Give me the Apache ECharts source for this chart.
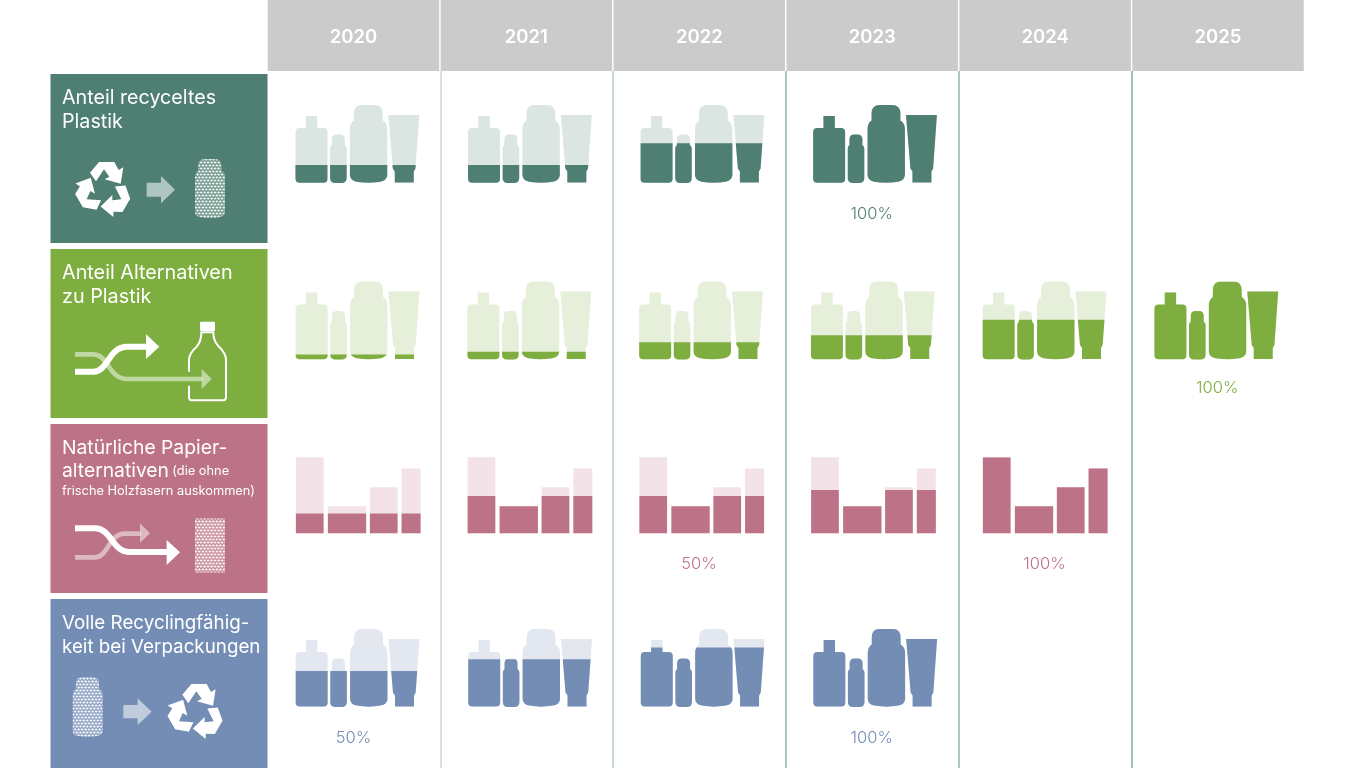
<!DOCTYPE html>
<html>
<head>
<meta charset="utf-8">
<style>html,body{margin:0;padding:0;background:#fff;overflow:hidden;width:1366px;height:768px}#chart{width:1366px;height:780px}</style>
<script src="https://cdn.jsdelivr.net/npm/echarts@6/dist/echarts.min.js"></script>
</head>
<body>
<div id="chart"></div>
<script>
// ---- data ----
const years = ['2020', '2021', '2022', '2023', '2024', '2025'];
const rowNames = ['Anteil recyceltes Plastik', 'Anteil Alternativen zu Plastik', 'Natürliche Papieralternativen', 'Volle Recyclingfähigkeit bei Verpackungen'];
const recycledFill = [23, 23, 51, 100, null, null];
const alternativesFill = [6.5, 10, 22, 31, 51, 100];
const paperFill = [26, 49, 49, 57, 100, null];
const recyclableFill = [46, 61, 76, 100, null, null];
const recycledLabels = ['', '', '', '100%', '', ''];
const alternativesLabels = ['', '', '', '', '', '100%'];
const paperLabels = ['', '', '50%', '', '100%', ''];
const recyclableLabels = ['50%', '', '', '100%', '', ''];
const titleLines = [
  ['{big|Anteil recyceltes}', '{big|Plastik}'],
  ['{big|Anteil Alternativen}', '{big|zu Plastik}'],
  ['{big|Natürliche Papier-}', '{big|alternativen} {small|(die ohne}', '{small|frische Holzfasern auskommen)}'],
  ['{big|Volle Recyclingfähig-}', '{big|keit bei Verpackungen}']
];
const darkColors = ['#4f7f72', '#7fae40', '#bc7387', '#738db5'];
const paleColors = ['#dbe6e3', '#e5efd9', '#f3e2e7', '#e3e8f0'];
const ruleColors = ['#c9dbd6', '#b4cdc6', '#8fb6ac', '#8fb6ac', '#86aca2'];

// ---- glyph outlines, local units: origin at the icon's left baseline ----
const bottlePaths = [
  'M10.3 -67H21.7V-55H28Q32 -55 32 -51V-4.3Q32 -.3 28 -.3H4Q0 -.3 0 -4.3V-51Q0 -55 4 -55H10.3Z',
  'M41 -48.5H44.5Q49.3 -48.5 49.3 -43.7V-38Q51.2 -37 51.2 -34.5V-5Q51.2 0 46 0H39.7Q34.6 0 34.6 -5V-34.5Q34.6 -37 36.3 -38V-43.7Q36.3 -48.5 41 -48.5Z',
  'M66.5 -78H79Q87.3 -78 87.3 -69.5V-62.5Q91.8 -60 91.8 -54V-8Q91.8 -3 85 -1.3Q73 1 61 -1.3Q54.4 -3 54.4 -8V-54Q54.4 -60 58.4 -62.5V-69.5Q58.4 -78 66.5 -78Z',
  'M92.8 -68H123.8L120 -14.5L118.3 -11.5V-.4H99.3V-11.5L97.3 -14.5Z'
];
const sheetPaths = [
  'M0 -76H27.7V0H0Z',
  'M32 -27H70.3V0H32Z',
  'M74 -46H101.7V0H74Z',
  'M105.7 -64.7H124.7V0H105.7Z'
];
const bottleOutline = bottlePaths[2];

const rowMetrics = [
  { left: -58.4, base: 24.5, step: -0.2, height: 78, labelY: 30.8 },
  { left: -58.2, base: 26, step: -1.0, height: 78, labelY: 29 },
  { left: -58, base: 24.8, step: -1.0, height: 76, labelY: 30.5 },
  { left: -58.2, base: 23.4, step: -0.2, height: 78, labelY: 31 }
];
const titleY = [[24, 48], [24, 48], [24.6, 47, 67], [24, 48]];
const titleSize = [19.7, 19.8, 19.3, 18.8];

function makeDots() {
  const c = document.createElement('canvas');
  c.width = 7; c.height = 6;
  const g = c.getContext('2d');
  g.fillStyle = '#fff';
  [[1.75, 1.5], [5.25, 1.5], [0, 4.5], [3.5, 4.5], [7, 4.5]].forEach(function (p) {
    g.beginPath(); g.arc(p[0], p[1], 1.25, 0, Math.PI * 2); g.fill();
  });
  return { image: c, repeat: 'repeat' };
}
const dots = makeDots();

function cellRenderer(rowIdx, shapes, labels) {
  return function (params, api) {
    const yi = api.value(0);
    const level = api.value(1);
    const c = api.coord([yi, rowIdx]);
    const m = rowMetrics[rowIdx];
    const h = m.height * level / 100;
    const shift = m.left + yi * m.step;
    const pale = shapes.map(function (d) {
      return { type: 'path', shape: { pathData: d }, style: { fill: paleColors[rowIdx] } };
    });
    const dark = shapes.map(function (d) {
      return { type: 'path', shape: { pathData: d }, style: { fill: darkColors[rowIdx] } };
    });
    const children = [
      { type: 'group', children: pale },
      { type: 'group', children: dark, clipPath: { type: 'rect', shape: { x: -5, y: -h, width: 140, height: h + 6 } } }
    ];
    if (labels[yi]) {
      children.push({
        type: 'text',
        style: { x: -shift - 0.4, y: m.labelY, text: labels[yi], fill: darkColors[rowIdx], font: '300 16.5px Inter', align: 'center', verticalAlign: 'middle' }
      });
    }
    return { type: 'group', x: c[0] + shift, y: c[1] + m.base, children: children };
  };
}

function cellData(values) {
  const out = [];
  values.forEach(function (v, i) { if (v !== null) out.push([i, v]); });
  return out;
}

function poly(points, opacity) {
  return { type: 'polygon', shape: { points: points }, style: { fill: '#fff', opacity: opacity == null ? 1 : opacity } };
}
function stroke(d, width, opacity) {
  return { type: 'path', shape: { pathData: d }, style: { fill: 'none', stroke: '#fff', lineWidth: width, opacity: opacity == null ? 1 : opacity } };
}
const recyclePiece = [[-42, -50], [-15, -82], [31, -82], [44, -58], [58, -66], [50, -17], [2, -30], [16, -38], [0, -60], [-24, -24]];
function recycle(cx, cy) {
  return [0, 1, 2].map(function (k) {
    return { type: 'polygon', x: cx, y: cy, rotation: -k * Math.PI * 2 / 3, shape: { points: recyclePiece }, style: { fill: '#fff' } };
  });
}
function dottedBottle(x, y, w, h) {
  return { type: 'path', shape: { pathData: bottleOutline, x: x, y: y, width: w, height: h, layout: 'cover' }, style: { fill: dots } };
}
function iconChildren(r) {
  if (r === 0) {
    return {
      scaled: recycle(312, 388).concat([poly([[440, 368], [483, 368], [483, 348], [525, 389], [483, 430], [483, 410], [440, 410]], 0.55)]),
      plain: [dottedBottle(144.5, 85, 30, 59)],
      offset: [-50.5, -14]
    };
  }
  if (r === 1) {
    return {
      scaled: [
        stroke('M105 328H160C205 328 205 402 262 402H488', 14, 0.5),
        poly([[485, 372], [515, 402], [485, 432]], 0.5),
        stroke('M105 380H160C205 380 205 305 262 305H320', 18),
        poly([[318, 268], [358, 305], [318, 342]]),
        stroke('M447 380V345Q447 325 470 305Q484 290 484 262H520Q520 290 537 305Q558 325 558 345V455Q558 466 548 466H457Q447 466 447 455V422', 6),
        { type: 'rect', shape: { x: 480, y: 230, width: 45, height: 28, r: 4 }, style: { fill: '#fff' } }
      ],
      plain: [],
      offset: [-10.5, -4]
    };
  }
  if (r === 2) {
    return {
      scaled: [
        stroke('M105 412H165C205 412 205 341 255 341H302', 14, 0.5),
        poly([[300, 310], [330, 340], [300, 368]], 0.5),
        stroke('M105 325H165C215 325 215 396 270 396H382', 18),
        poly([[380, 360], [420, 397], [380, 435]])
      ],
      plain: [{ type: 'rect', shape: { x: 144.5, y: 94.5, width: 30, height: 54 }, style: { fill: dots } }],
      offset: [-10.5, -4]
    };
  }
  return {
    scaled: recycle(469, 349).concat([poly([[250, 330], [293, 330], [293, 310], [335, 350], [293, 390], [293, 370], [250, 370]], 0.55)]),
    plain: [dottedBottle(22.2, 78, 30, 60)],
    offset: [-10.5, -4]
  };
}

const option = {
  animation: false,
  backgroundColor: '#fff',
  grid: [
    { left: 267, width: 1037.5, top: 0, height: 71 },
    { left: 267.5, width: 1036.5, top: 71, height: 700 },
    { left: 50.5, width: 217, top: 71, height: 700 }
  ],
  xAxis: [
    {
      gridIndex: 0, type: 'category', data: years, position: 'bottom', z: 10,
      axisLine: { show: false }, axisTick: { show: false },
      axisLabel: { inside: true, margin: 34, verticalAlign: 'middle', color: '#fff', fontFamily: 'Inter', fontWeight: 600, fontSize: 18.5 }
    },
    {
      gridIndex: 1, type: 'category', data: years, position: 'top',
      axisLine: { show: false }, axisTick: { show: false }, axisLabel: { show: false },
      splitLine: { show: true, showMinLine: false, showMaxLine: false, lineStyle: { color: ruleColors, width: 1.5 } }
    },
    { gridIndex: 2, type: 'value', min: 0, max: 1, show: false }
  ],
  yAxis: [
    { gridIndex: 0, type: 'value', min: 0, max: 1, show: false },
    { gridIndex: 1, type: 'category', data: rowNames, inverse: true, show: false },
    { gridIndex: 2, type: 'category', data: rowNames, inverse: true, show: false }
  ],
  series: [
    {
      type: 'bar', name: 'Jahre', xAxisIndex: 0, yAxisIndex: 0, data: years.map(function () { return 1; }),
      barCategoryGap: '0.85%', itemStyle: { color: '#cbcbcb' }, silent: true
    },
    {
      type: 'bar', name: 'Ziele', xAxisIndex: 2, yAxisIndex: 2, barCategoryGap: '3.43%', silent: true,
      data: rowNames.map(function (n, i) { return { value: 1, itemStyle: { color: darkColors[i] } }; })
    },
    {
      type: 'custom', name: 'Titel', xAxisIndex: 2, yAxisIndex: 2, silent: true, z: 5, clip: false,
      data: rowNames.map(function (n, i) { return [0, i]; }),
      encode: { x: 0, y: 1 },
      renderItem: function (params, api) {
        const r = api.value(1);
        const c = api.coord([0, r]);
        const top = c[1] - 84.5;
        const ic = iconChildren(r);
        const kids = titleLines[r].map(function (line, k) {
          return {
            type: 'text',
            style: {
              x: 11.5, y: titleY[r][k], text: line, fill: '#fff', align: 'left', verticalAlign: 'middle',
              rich: {
                big: { fontFamily: 'Inter', fontSize: titleSize[r], fill: '#fff', color: '#fff' },
                small: { fontFamily: 'Inter', fontSize: 12.8, fill: '#fff', color: '#fff' }
              }
            }
          };
        });
        kids.push({ type: 'group', x: ic.offset[0], y: ic.offset[1], scaleX: 1 / 3, scaleY: 1 / 3, children: ic.scaled });
        ic.plain.forEach(function (p) { kids.push(p); });
        return { type: 'group', x: c[0], y: top, children: kids };
      }
    },
    {
      type: 'custom', name: rowNames[0], xAxisIndex: 1, yAxisIndex: 1, silent: true, z: 5, clip: false,
      data: cellData(recycledFill), encode: { x: 0 },
      renderItem: cellRenderer(0, bottlePaths, recycledLabels)
    },
    {
      type: 'custom', name: rowNames[1], xAxisIndex: 1, yAxisIndex: 1, silent: true, z: 5, clip: false,
      data: cellData(alternativesFill), encode: { x: 0 },
      renderItem: cellRenderer(1, bottlePaths, alternativesLabels)
    },
    {
      type: 'custom', name: rowNames[2], xAxisIndex: 1, yAxisIndex: 1, silent: true, z: 5, clip: false,
      data: cellData(paperFill), encode: { x: 0 },
      renderItem: cellRenderer(2, sheetPaths, paperLabels)
    },
    {
      type: 'custom', name: rowNames[3], xAxisIndex: 1, yAxisIndex: 1, silent: true, z: 5, clip: false,
      data: cellData(recyclableFill), encode: { x: 0 },
      renderItem: cellRenderer(3, bottlePaths, recyclableLabels)
    }
  ]
};
echarts.init(document.getElementById('chart')).setOption(option);
</script>
</body>
</html>
